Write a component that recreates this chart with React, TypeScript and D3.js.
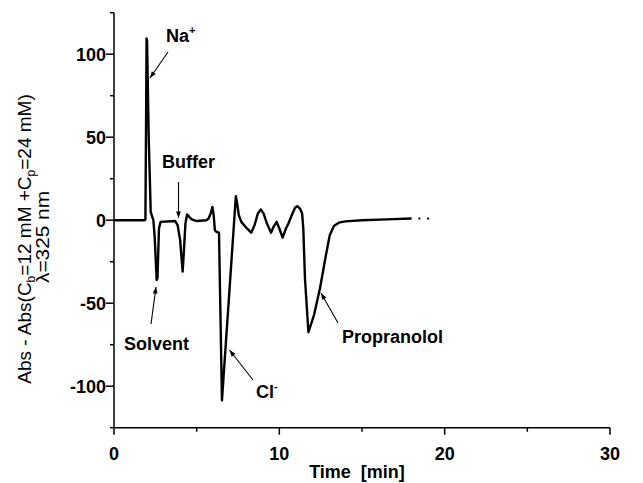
import React from "react";
import * as d3 from "d3";

// Electropherogram trace: time [min] vs. differential absorbance
const timeMin = [
  0, 1.86, 1.9, 1.94, 1.97, 2.0, 2.1, 2.22, 2.3, 2.38, 2.46, 2.58, 2.63, 2.72, 2.82,
  3.7, 3.85, 4.0, 4.15, 4.22, 4.32, 4.42, 4.55, 4.7, 5.0,
  5.6, 5.72, 5.85, 5.95, 6.03, 6.1, 6.2, 6.35, 6.53, 7.37, 7.45, 7.55, 7.7, 7.95, 8.3,
  8.5, 8.7, 8.88, 9.05, 9.25, 9.5, 9.65, 9.84, 10.0, 10.2, 10.4, 10.55, 10.75, 10.95,
  11.08, 11.25, 11.38, 11.45, 11.55, 11.76, 12.1, 12.46, 12.8, 13.05, 13.3, 13.6, 14.0, 15.0, 16.5, 18.0,
];
const absDiff = [
  0, 0, 0.5, 60, 109.5, 108, 50, 5, 2.5, 0, -10, -36, -35, -5, -1,
  -0.5, -3, -12, -31, -20, -2, 3.5, 2, 0.5, -0.5,
  0, 1, 4, 8, 3, -6, -7, -7.5, -108.5, 14.5, 10, 3, -1, -4, -7.5,
  -3, 4, 6.5, 4, -2, -7.5, -4, -1, -5, -10.5, -5, -2, 3, 7.5,
  8.5, 7, 4, -5, -35, -67.5, -57, -41, -22, -9, -3.5, -1.5, -0.7, 0, 0.5, 1,
];
// Sparse readings after the trace ends
const tailTime = [18.47, 19.0];
const tailAbs = [1, 1];

const xTicks = [0, 10, 20, 30];
const xMinor = [5, 15, 25];
const yTicks = [-100, -50, 0, 50, 100];
const yMinor = [-125, -75, -25, 25, 75, 125];

const peakLabels = ["Na", "Buffer", "Solvent", "Cl", "Propranolol"];

const W = 643;
const H = 483;
const x = d3.scaleLinear().domain([0, 30]).range([114, 610]);
const y = d3.scaleLinear().domain([-125, 125]).range([427.7, 12.7]);

const font = "Arial, 'Liberation Sans', Helvetica, sans-serif";

function Arrow({ x1, y1, x2, y2 }: { x1: number; y1: number; x2: number; y2: number }) {
  const ang = Math.atan2(y2 - y1, x2 - x1);
  const len = 7;
  const spread = 0.35;
  const p1 = [x2 - len * Math.cos(ang - spread), y2 - len * Math.sin(ang - spread)];
  const p2 = [x2 - len * Math.cos(ang + spread), y2 - len * Math.sin(ang + spread)];
  return (
    <g>
      <line x1={x1} y1={y1} x2={x2} y2={y2} stroke="#000" strokeWidth={1.1} />
      <path d={`M${x2},${y2}L${p1[0]},${p1[1]}L${p2[0]},${p2[1]}Z`} fill="#000" />
    </g>
  );
}

export default function App() {
  const pts = timeMin.map((t, i) => [t, absDiff[i]] as [number, number]);
  const line = d3
    .line<[number, number]>()
    .x((d) => x(d[0]))
    .y((d) => y(d[1]))
    .curve(d3.curveLinear);

  const labelStyle = { fontFamily: font, fontWeight: 700, fontSize: 18 } as const;

  return (
    <div style={{ position: "fixed", left: 0, top: 0 }}>
      <svg width={W} height={H} style={{ display: "block", background: "#fff" }}>
        {/* trace */}
        <path d={line(pts) || ""} fill="none" stroke="#000" strokeWidth={2.4} strokeLinejoin="round" />
        {tailTime.map((t, i) => (
          <rect key={i} x={x(t) - 1} y={y(tailAbs[i]) - 1} width={2} height={2} fill="#000" />
        ))}

        {/* axes */}
        <line x1={x(0)} x2={x(30)} y1={y(-125)} y2={y(-125)} stroke="#000" strokeWidth={1.5} />
        <line x1={x(0)} x2={x(0)} y1={y(-125)} y2={y(125)} stroke="#000" strokeWidth={1.5} />
        {xTicks.map((t) => (
          <g key={"xt" + t}>
            <line x1={x(t)} x2={x(t)} y1={y(-125)} y2={y(-125) + 7} stroke="#000" strokeWidth={1.5} />
            <text x={x(t)} y={460} textAnchor="middle" style={labelStyle}>
              {t}
            </text>
          </g>
        ))}
        {xMinor.map((t) => (
          <line key={"xm" + t} x1={x(t)} x2={x(t)} y1={y(-125)} y2={y(-125) + 4} stroke="#000" strokeWidth={1.5} />
        ))}
        {yTicks.map((v) => (
          <g key={"yt" + v}>
            <line x1={x(0) - 8} x2={x(0)} y1={y(v)} y2={y(v)} stroke="#000" strokeWidth={1.5} />
            <text x={106} y={y(v)} dy="0.36em" textAnchor="end" style={labelStyle}>
              {v}
            </text>
          </g>
        ))}
        {yMinor.map((v) => (
          <line key={"ym" + v} x1={x(0) - 4} x2={x(0)} y1={y(v)} y2={y(v)} stroke="#000" strokeWidth={1.5} />
        ))}

        {/* axis titles */}
        <text x={357} y={478} textAnchor="middle" style={labelStyle}>
          Time{"\u00a0\u00a0"}[min]
        </text>
        <text
          transform="translate(31,239) rotate(-90)"
          textAnchor="middle"
          fontFamily={font}
          fontSize={19}
        >
          Abs - Abs(C<tspan fontSize={12} dy={4}>b</tspan>
          <tspan dy={-4}>=12 mM +C</tspan>
          <tspan fontSize={12} dy={4}>p</tspan>
          <tspan dy={-4}>=24 mM)</tspan>
        </text>
        <text
          transform="translate(49,237) rotate(-90)"
          textAnchor="middle"
          fontFamily={font}
          fontSize={19}
          textLength={92}
          lengthAdjust="spacingAndGlyphs"
        >
          λ=325 nm
        </text>

        {/* peak annotations */}
        <text x={166} y={42} style={labelStyle}>
          {peakLabels[0]}
          <tspan fontSize={11} dy={-8}>+</tspan>
        </text>
        <Arrow x1={168} y1={52} x2={150} y2={78} />

        <text x={162} y={168} style={labelStyle}>
          {peakLabels[1]}
        </text>
        <Arrow x1={178.5} y1={182} x2={178.5} y2={218} />

        <text x={124} y={350} style={labelStyle}>
          {peakLabels[2]}
        </text>
        <Arrow x1={151} y1={324} x2={156} y2={287} />

        <text x={256} y={398} style={labelStyle}>
          {peakLabels[3]}
          <tspan fontSize={11} dy={-8}>-</tspan>
        </text>
        <Arrow x1={253} y1={380} x2={229.5} y2={350} />

        <text x={342} y={343} style={labelStyle}>
          {peakLabels[4]}
        </text>
        <Arrow x1={338} y1={323} x2={321} y2={293} />
      </svg>
    </div>
  );
}
